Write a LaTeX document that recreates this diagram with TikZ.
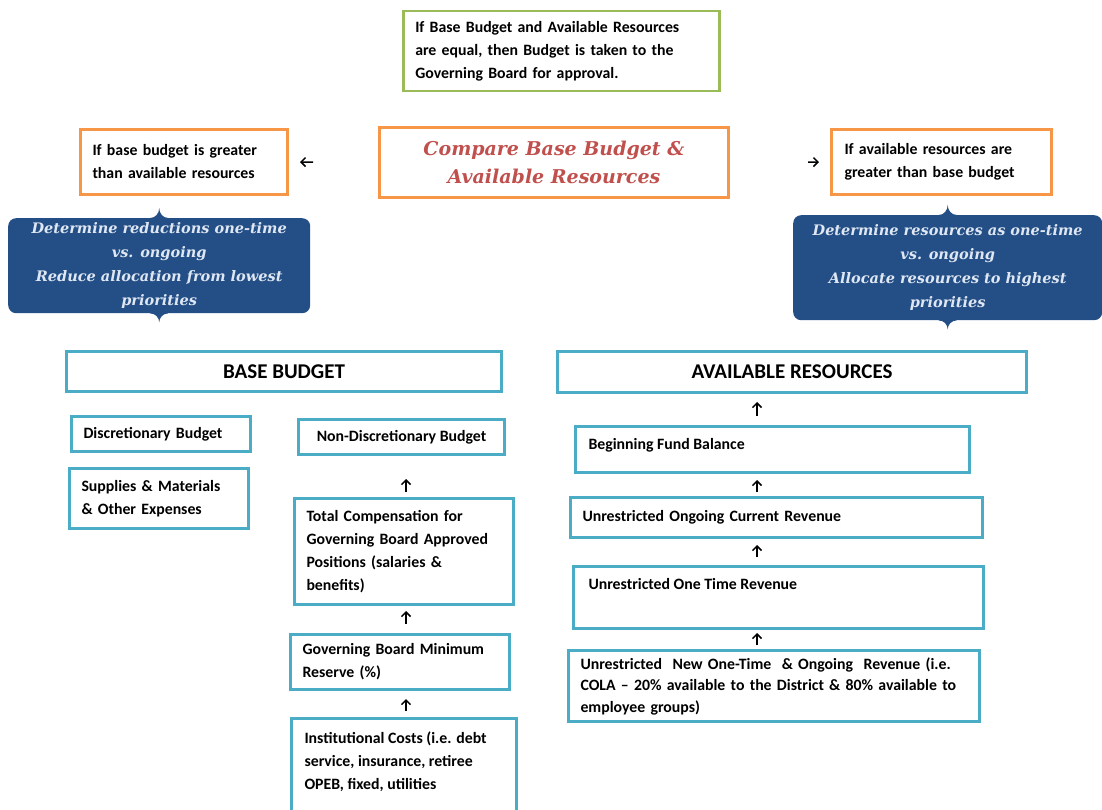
\documentclass[tikz,border=0pt]{standalone}
\usepackage{fontspec}
\setmainfont{Carlito}
\newfontfamily\serifbi{DejaVu Serif}
\usetikzlibrary{arrows.meta,positioning}
\definecolor{boxcyan}{HTML}{4BACC6}
\definecolor{boxorange}{HTML}{F79646}
\definecolor{boxgreen}{HTML}{9BBB59}
\definecolor{calblue}{HTML}{234E86}
\definecolor{caltext}{HTML}{DFE7F3}
\definecolor{cmpred}{HTML}{C0504D}
\tikzset{
  txtfont/.style={font=\fontsize{15.8}{23}\selectfont\bfseries},
  cbox/.style={draw=boxcyan, line width=3pt, inner xsep=12pt, inner ysep=0pt,
    anchor=north west, align=left, txtfont},
  obox/.style={cbox, draw=boxorange},
  gbox/.style={cbox, draw=boxgreen, line width=2.5pt},
  bigfont/.style={font=\fontsize{21}{24}\selectfont\bfseries},
  callout/.style={fill=calblue, text=caltext, rounded corners=8pt, inner sep=0pt,
    anchor=north west, align=center,
    font=\serifbi\fontsize{14.5}{24}\selectfont\bfseries\itshape},
  uparr/.style={->, line width=1.5pt}
}
\newcommand{\toptxt}[3]{\parbox[c][#2][t]{#1}{\raggedright #3}}
\begin{document}
\begin{tikzpicture}[x=1pt,y=-1pt,>={Straight Barb[length=4.5pt,width=9pt]}]
\useasboundingbox (0,0) rectangle (1102,810);
% comparison at the top
\node[gbox, text width=292pt, minimum width=316pt, minimum height=80pt] (equal) at (402,10)
  {If Base Budget and Available Resources\\ are equal, then Budget is taken to the\\ Governing Board for approval.};
\node[obox, align=center, minimum width=349pt, minimum height=70pt, text=cmpred,
  font=\serifbi\fontsize{19}{28}\selectfont\bfseries\itshape] (cmp) at (378,126)
  {Compare Base Budget \&\\ Available Resources};
\node[obox, text width=183pt, minimum width=207pt, minimum height=65pt] (ifbase) at (79,128)
  {If base budget is greater\\ than available resources};
\node[obox, inner xsep=13pt, text width=194pt, minimum width=220pt, minimum height=65pt] (ifavail) at (830,128)
  {If available resources are\\ greater than base budget};
\draw[uparr, shorten <=65pt, shorten >=11pt] (cmp.west) -- (ifbase.east);
\draw[uparr, shorten <=78pt, shorten >=11pt] (cmp.east) -- (ifavail.west);
% callouts
\node[callout, minimum width=302pt, minimum height=95pt] (reduce) at (8,218)
  {Determine reductions one-time\\ vs. ongoing\\ Reduce allocation from lowest\\ priorities};
\node[callout, minimum width=309pt, minimum height=105pt] (alloc) at (793,215)
  {Determine resources as one-time\\ vs. ongoing\\ Allocate resources to highest\\ priorities};
\foreach \n in {reduce,alloc}{
  \fill[calblue] ([xshift=-9pt,yshift=-2pt]\n.north) to[out=90,in=-90] ([xshift=-9pt]\n.north)
    to[out=0,in=-90] ([yshift=10pt]\n.north) to[out=-90,in=180] ([xshift=9pt]\n.north)
    -- ([xshift=9pt,yshift=-2pt]\n.north) -- cycle;
  \fill[calblue] ([xshift=-9pt,yshift=2pt]\n.south) -- ([xshift=-9pt]\n.south)
    to[out=0,in=90] ([yshift=-9pt]\n.south) to[out=90,in=180] ([xshift=9pt]\n.south)
    -- ([xshift=9pt,yshift=2pt]\n.south) -- cycle;
}
% base budget
\node[cbox, align=center, minimum width=435pt, minimum height=40pt, bigfont] (base) at (65,350) {BASE BUDGET};
\node[cbox, text width=155pt, minimum width=179pt, minimum height=35pt] (disc) at (70,415) {Discretionary Budget};
\node[cbox, text width=155pt, minimum width=179pt, minimum height=60pt] (supp) at (68,467)
  {Supplies \& Materials\\ \& Other Expenses};
\node[cbox, align=center, minimum width=206pt, minimum height=35pt] (nondisc) at (297,418) {Non-Discretionary Budget};
\node[cbox, text width=195pt, minimum width=219pt, minimum height=106pt] (comp) at (293,497)
  {Total Compensation for\\ Governing Board Approved\\ Positions (salaries \&\\ benefits)};
\node[cbox, text width=195pt, minimum width=219pt, minimum height=55pt] (reserve) at (289,633)
  {Governing Board Minimum\\ Reserve (\%)};
\node[cbox, inner xsep=13pt, inner ysep=13pt] (inst) at (290,717)
  {\toptxt{199pt}{74pt}{Institutional Costs (i.e. debt\\ service, insurance, retiree\\ OPEB, fixed, utilities}};
\coordinate (lx) at (406,0);
\draw[uparr, shorten <=5pt, shorten >=23pt] (comp.north -| lx) -- (nondisc.south -| lx);
\draw[uparr, shorten <=9pt, shorten >=5pt] (reserve.north -| lx) -- (comp.south -| lx);
\draw[uparr, shorten <=6pt, shorten >=8pt] (inst.north -| lx) -- (reserve.south -| lx);
% available resources
\node[cbox, align=center, minimum width=469pt, minimum height=41pt, bigfont] (avail) at (556,350) {AVAILABLE RESOURCES};
\node[cbox, inner xsep=13pt, inner ysep=12pt] (fund) at (574,425)
  {\toptxt{368pt}{22pt}{Beginning Fund Balance}};
\node[cbox, text width=388pt, minimum width=412pt, minimum height=40pt] (ongoing) at (569,496)
  {Unrestricted Ongoing Current Revenue};
\node[cbox, inner xsep=15pt, inner ysep=12pt] (onetime) at (572,565)
  {\toptxt{380pt}{38pt}{Unrestricted One Time Revenue}};
\node[cbox, text width=387pt, minimum width=411pt, minimum height=71pt,
  font=\fontsize{15.8}{21.5}\selectfont\bfseries] (new) at (567,649)
  {Unrestricted\ \ New One-Time\ \ \& Ongoing\ \ Revenue (i.e.\\ COLA -- 20\% available to the District \& 80\% available to\\ employee groups)};
\coordinate (rx) at (757,0);
\draw[uparr, shorten <=9pt, shorten >=8pt] (fund.north -| rx) -- (avail.south -| rx);
\draw[uparr, shorten <=4pt, shorten >=6pt] (ongoing.north -| rx) -- (fund.south -| rx);
\draw[uparr, shorten <=8pt, shorten >=6pt] (onetime.north -| rx) -- (ongoing.south -| rx);
\draw[uparr, shorten <=4pt, shorten >=3pt] (new.north -| rx) -- (onetime.south -| rx);
\end{tikzpicture}
\end{document}
